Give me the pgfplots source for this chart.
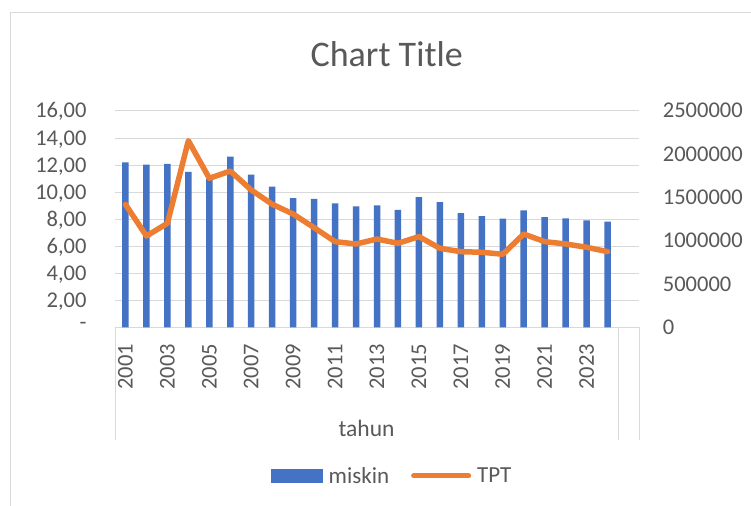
\documentclass[border=0pt]{standalone}
\usepackage{pgfplots}
\pgfplotsset{compat=1.18}
\usepackage{fontspec}
\setmainfont{Carlito}
\definecolor{exblue}{HTML}{4472C4}
\definecolor{exorange}{HTML}{ED7D31}
\definecolor{txt}{HTML}{595959}
\definecolor{gridc}{HTML}{D9D9D9}
\pgfplotsset{common/.style={
  scale only axis, width=524bp, height=216.3bp,
  at={(115bp,178.7bp)}, anchor=south west,
  xmin=0.5, xmax=25.5, major tick length=0pt,
  tick label style={txt, font=\fontsize{22.5bp}{27bp}\selectfont},
}}
\begin{document}
\begin{tikzpicture}[x=1bp,y=1bp]
\path[use as bounding box, fill=white] (0,0) rectangle (751,506);
\draw[gridc, line width=1bp] (10.5,-5) -- (10.5,493.3) -- (760,493.3);
\node[txt, font=\fontsize{36bp}{42bp}\selectfont, anchor=base, inner sep=0pt] at (386.7,439.3) {Chart Title};

\begin{axis}[common, clip=false,
  ymin=0, ymax=16, ytick={0,2,...,16},
  yticklabels={{\raisebox{5bp}{-}\hspace{10.6bp}},{2,00},{4,00},{6,00},{8,00},{10,00},{12,00},{14,00},{16,00}},
  yticklabel style={anchor=base east, inner sep=0pt, xshift=-28.3bp, yshift=-7bp},
  xtick={1,3,...,23},
  xticklabels={2001,2003,2005,2007,2009,2011,2013,2015,2017,2019,2021,2023},
  xticklabel style={yshift=-16.7bp, rotate=90, anchor=east, inner sep=0pt},
  axis x line*=bottom, axis y line*=left,
  y axis line style={draw=none},
  x axis line style={gridc, line width=1bp},
  ymajorgrids, major grid style={gridc, line width=1bp},
  legend style={at={(0.527,-0.687)}, anchor=center, draw=none, fill=none,
    font=\fontsize{23bp}{27bp}\selectfont\color{txt},
    legend columns=2,
    nodes={inner sep=0pt},
    /tikz/every odd column/.append style={column sep=6bp},
    /tikz/every even column/.append style={column sep=22bp}},
  legend cell align=left,
]
\addplot[ybar, bar width=6.5bp, fill=exblue, draw=none,
  legend image code/.code={\fill[exblue] (0bp,-6.7bp) rectangle (51.7bp,6.7bp);}]
coordinates {
(1,12.20) (2,12.03) (3,12.08) (4,11.49) (5,11.00) (6,12.62) (7,11.29) (8,10.40)
(9,9.56) (10,9.49) (11,9.17) (12,8.95) (13,9.02) (14,8.68) (15,9.62) (16,9.25)
(17,8.45) (18,8.23) (19,8.03) (20,8.65) (21,8.14) (22,8.06) (23,7.91) (24,7.81)
};
\addlegendentry{miskin}
\addlegendimage{legend image code/.code={\draw[exorange, line width=5bp, line cap=round] (0bp,0bp) -- (55bp,0bp);}}
\addlegendentry{TPT}
\draw[gridc, line width=1bp] (axis cs:0.5,0) -- ++(0pt,-112.7bp);
\draw[gridc, line width=1bp] (axis cs:24.5,0) -- ++(0pt,-112.7bp);
\draw[gridc, line width=1bp] (axis cs:25.5,0) -- ++(0pt,-112.7bp);
\path (axis cs:12.5,0) ++(0pt,-109.5bp) node[anchor=base, inner sep=0pt, txt, font=\fontsize{23.5bp}{28bp}\selectfont] {tahun};
\end{axis}

\begin{axis}[common,
  ymin=0, ymax=2500000, ytick={0,500000,1000000,1500000,2000000,2500000},
  yticklabels={0,500000,1000000,1500000,2000000,2500000},
  scaled y ticks=false,
  yticklabel style={anchor=base west, inner sep=0pt, xshift=23.7bp, yshift=-7bp},
  axis y line*=right, axis x line=none, xtick=\empty,
  y axis line style={draw=none},
]
\addplot[exorange, line width=5.5bp, line join=round, line cap=round, mark=none]
coordinates {
(1,1420000) (2,1055000) (3,1202000) (4,2157000) (5,1722000) (6,1806000)
(7,1587000) (8,1422000) (9,1309000) (10,1151000) (11,990000) (12,963000)
(13,1020000) (14,971000) (15,1048000) (16,913000) (17,874000) (18,867000)
(19,844000) (20,1078000) (21,990000) (22,963000) (23,925000) (24,874000)
};
\end{axis}
\end{tikzpicture}
\end{document}
